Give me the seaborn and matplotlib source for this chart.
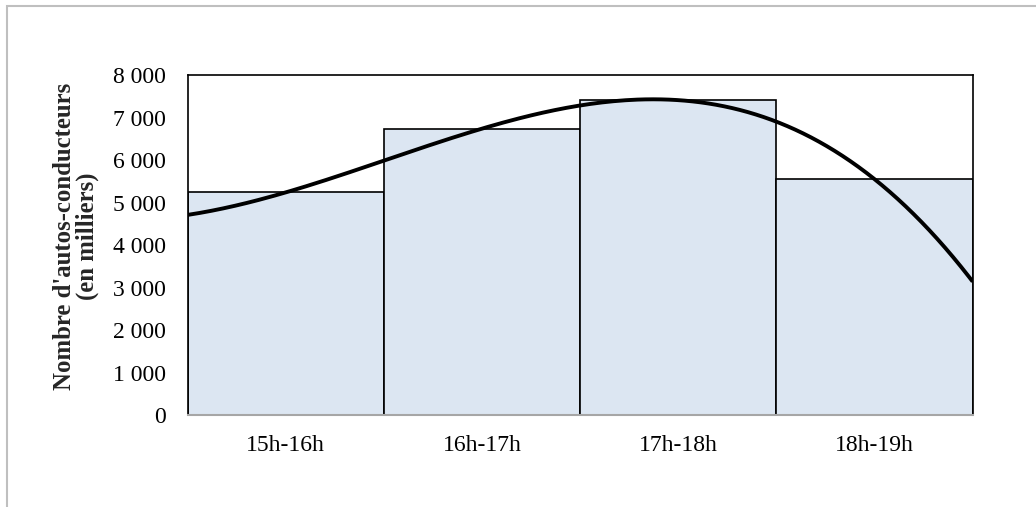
import numpy as np
import pandas as pd
import matplotlib
matplotlib.use('Agg')
import matplotlib.pyplot as plt
from matplotlib.patches import Rectangle
import seaborn as sns

periodes = ['15h-16h', '16h-17h', '17h-18h', '18h-19h']
autos = [5250, 6750, 7420, 5560]
yticks = [0, 1000, 2000, 3000, 4000, 5000, 6000, 7000, 8000]
ylabels = ['0', '1 000', '2 000', '3 000', '4 000', '5 000', '6 000', '7 000', '8 000']

sns.set_theme(style='white')
plt.rcParams['font.family'] = ['Liberation Serif', 'DejaVu Serif']

df = pd.DataFrame({'periode': periodes, 'autos': autos})

fig = plt.figure(figsize=(10.36, 5.07), dpi=100)
ax = fig.add_axes([0.1812, 0.1805, 0.7577, 0.6706])

sns.barplot(data=df, x='periode', y='autos', ax=ax, width=1.0,
            color='#dce6f2', saturation=1, edgecolor='black', linewidth=1.2)

# courbe de tendance polynomiale (ordre 3) sur les centres des barres
pos = np.arange(len(autos))
coef = np.polyfit(pos, autos, 3)
xs = np.linspace(-0.5, len(autos) - 0.5, 200)
ax.plot(xs, np.polyval(coef, xs), color='black', lw=2.8, solid_capstyle='butt')

ax.set_xlim(-0.5, len(autos) - 0.5)
ax.set_ylim(0, 8000)
ax.set_yticks(yticks)
ax.set_yticklabels(ylabels)
ax.tick_params(axis='both', length=0, labelsize=17, colors='black')
ax.tick_params(axis='y', pad=16)
ax.tick_params(axis='x', pad=14)
ax.set_xlabel('')
ax.set_ylabel("Nombre d'autos-conducteurs\n(en milliers)", fontsize=17.8,
              fontweight='bold', linespacing=0.95)
ax.yaxis.set_label_coords(-0.113, 0.528)

for s in ['top', 'right', 'left']:
    ax.spines[s].set_color('black')
    ax.spines[s].set_linewidth(1.2)
ax.spines['bottom'].set_color('#a6a6a6')
ax.spines['bottom'].set_linewidth(1.5)

# cadre gris de la zone de graphique
fig.patches.append(Rectangle((7 / 1036, -0.2), 1.5, 1.2 - 6 / 507,
                             transform=fig.transFigure, fill=False,
                             edgecolor='#bfbfbf', lw=1.5))

fig.savefig('out.png', dpi=100)
